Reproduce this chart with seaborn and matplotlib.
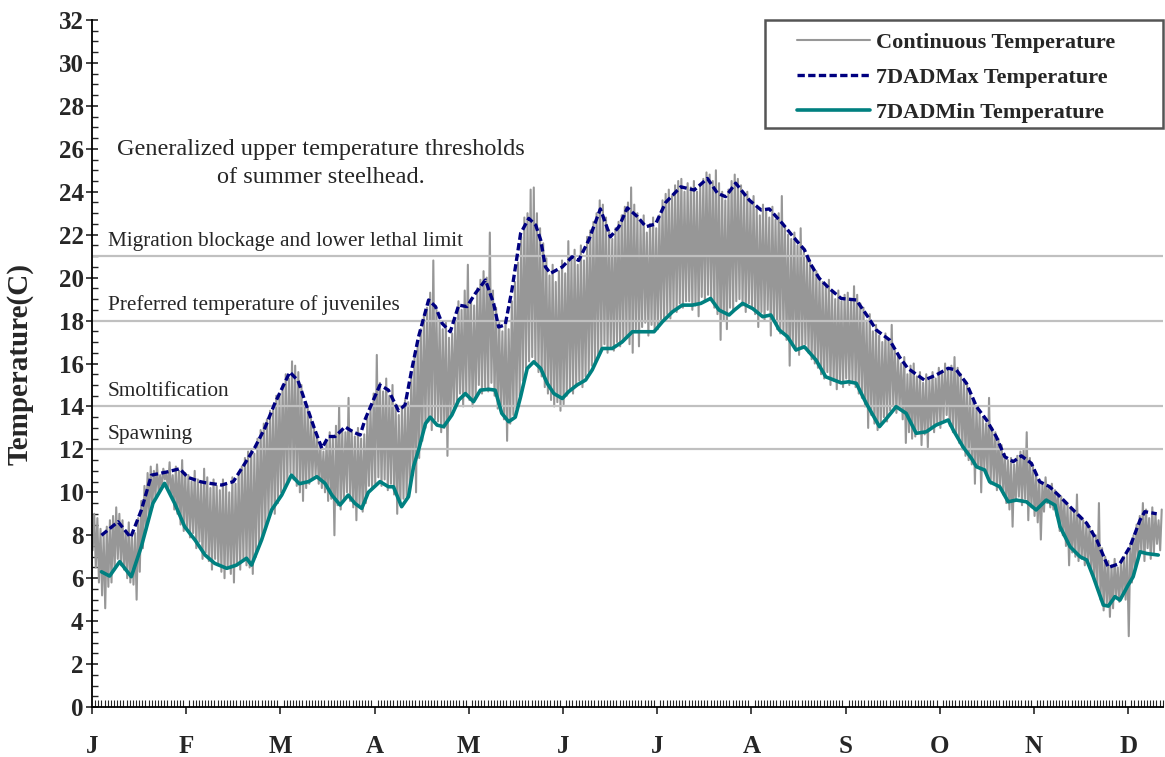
import numpy as np
import pandas as pd
import matplotlib
matplotlib.use('Agg')
import matplotlib.pyplot as plt
import seaborn as sns
from matplotlib.ticker import MultipleLocator, FixedLocator
from matplotlib.patches import Rectangle

sns.set_style('white')
plt.rcParams['font.family'] = ['Liberation Serif', 'DejaVu Serif']

# Continuous record, daily highs and lows (day 0 = Jan 1)
daily_high = [
    9.0, 8.8, 8.3, 8.0, 8.4, 8.7, 8.9, 9.3, 9.0, 8.7,
    8.2, 8.6, 7.9, 8.1, 8.8, 9.6, 10.3, 10.9, 11.2, 11.0,
    11.3, 10.8, 11.1, 10.9, 11.4, 10.8, 11.2, 11.0, 11.5, 10.9,
    10.8, 10.5, 11.0, 10.6, 10.4, 11.1, 10.7, 10.2, 10.6, 10.3,
    10.1, 10.6, 10.3, 10.0, 10.7, 10.4, 10.9, 11.2, 11.6, 11.9,
    12.0, 11.8, 12.5, 12.9, 13.2, 13.4, 13.8, 14.0, 14.5, 14.6,
    15.0, 15.5, 15.3, 16.1, 15.9, 15.6, 15.0, 14.2, 13.9, 13.5,
    13.0, 12.6, 12.3, 11.9, 12.4, 12.8, 12.5, 13.1, 14.0, 12.9,
    12.8, 14.4, 12.9, 12.6, 13.0, 12.5, 12.7, 13.5, 14.0, 14.6,
    16.4, 15.1, 14.7, 15.3, 14.5, 15.0, 14.1, 13.6, 13.9, 14.3,
    14.2, 15.5, 16.3, 17.0, 17.6, 18.2, 18.6, 19.3, 20.8, 18.5,
    18.0, 17.6, 17.9, 17.2, 17.4, 18.1, 18.9, 18.5, 19.4, 20.6,
    19.0, 18.7, 19.5, 19.9, 20.3, 20.0, 22.1, 19.4, 18.6, 17.9,
    17.5, 18.0, 17.6, 18.9, 19.8, 20.7, 21.9, 22.8, 23.0, 24.1,
    24.2, 23.0, 22.3, 21.6, 20.9, 20.1, 20.6, 19.8, 20.3, 20.8,
    20.2, 21.7, 20.9, 21.3, 20.6, 21.5, 20.8, 21.9, 22.2, 22.6,
    23.0, 23.6, 23.4, 22.8, 22.2, 21.8, 22.3, 22.6, 22.9, 23.3,
    23.5, 24.2, 23.4, 23.0, 22.6, 22.9, 22.1, 22.5, 22.8, 22.3,
    22.9, 23.6, 23.9, 24.1, 23.8, 24.3, 24.5, 24.6, 24.0, 24.4,
    24.2, 24.5, 24.0, 24.3, 24.6, 24.9, 24.8, 24.5, 25.0, 24.4,
    24.0, 23.6, 24.1, 24.5, 24.8, 24.6, 24.3, 23.9, 24.0, 23.5,
    23.8, 23.2, 22.9, 23.4, 23.1, 22.8, 23.3, 22.7, 23.0, 23.8,
    22.4, 22.0, 21.8, 22.1, 21.5, 22.3, 21.2, 21.0, 20.8, 20.5,
    20.3, 20.0, 19.8, 19.6, 19.9, 19.3, 19.0, 19.4, 18.9, 19.2,
    19.3, 18.9, 19.6, 19.2, 18.8, 18.6, 18.0, 18.3, 17.5, 17.8,
    17.3, 17.0, 17.4, 17.1, 17.8, 16.6, 16.4, 16.0, 16.3, 15.5,
    15.9, 16.0, 15.4, 15.6, 15.1, 15.5, 15.2, 15.6, 15.3, 15.8,
    15.6, 16.0, 15.7, 15.9, 16.3, 15.8, 15.5, 15.2, 15.0, 14.6,
    14.3, 14.0, 13.7, 13.5, 13.2, 14.4, 13.0, 12.8, 12.5, 12.2,
    11.8, 11.5, 11.6, 11.3, 11.7, 11.9, 12.0, 12.8, 11.6, 11.2,
    10.9, 10.6, 10.4, 10.7, 10.2, 10.4, 10.1, 9.9, 9.8, 9.6,
    9.4, 9.3, 9.1, 9.9, 8.9, 8.7, 8.5, 8.4, 8.2, 8.0,
    9.5, 7.4, 7.0, 6.8, 6.6, 6.9, 6.5, 6.7, 7.0, 7.2,
    7.6, 8.0, 8.5, 8.9, 9.5, 9.2, 8.8, 9.3, 9.0, 8.7, 9.2,
]
daily_low = [
    7.3, 6.5, 5.8, 5.2, 4.6, 5.6, 5.8, 6.4, 6.9, 6.6,
    6.4, 6.0, 5.8, 5.7, 5.0, 6.3, 7.4, 8.2, 8.9, 9.3,
    9.8, 10.0, 10.2, 10.6, 10.1, 9.8, 9.2, 9.0, 8.5, 8.2,
    8.3, 7.9, 8.1, 7.4, 7.7, 6.9, 7.2, 6.8, 6.4, 6.9,
    6.6, 6.3, 6.0, 6.5, 6.2, 5.8, 6.7, 6.4, 6.9, 6.6,
    6.5, 6.2, 7.0, 7.6, 8.0, 8.4, 8.8, 9.2, 9.0, 9.5,
    10.0, 10.2, 10.5, 10.9, 10.6, 10.3, 10.0, 9.6, 10.2, 10.4,
    10.6, 10.8, 10.4, 10.2, 10.0, 9.6, 9.7, 8.0, 9.4, 9.2,
    9.7, 10.0, 9.6, 9.3, 8.7, 9.4, 9.1, 9.5, 10.3, 10.2,
    10.4, 10.7, 10.3, 10.6, 10.1, 10.4, 9.9, 9.0, 9.4, 9.7,
    9.8, 10.2, 10.8, 10.0, 11.6, 12.4, 13.0, 13.3, 12.9, 13.4,
    13.3, 12.8, 13.0, 11.7, 13.6, 13.9, 14.2, 14.6, 14.0, 14.5,
    14.3, 14.0, 14.4, 15.0, 14.6, 14.9, 14.7, 15.1, 14.5, 13.9,
    13.8, 13.4, 12.4, 13.2, 13.6, 13.9, 14.5, 15.2, 15.8, 16.1,
    16.3, 16.0, 15.6, 15.4, 14.9, 14.6, 14.3, 14.0, 14.2, 13.8,
    14.1, 14.5, 14.8, 14.6, 15.0, 15.2, 14.9, 15.4, 15.6, 15.9,
    16.0, 16.4, 16.6, 16.9, 16.5, 16.8, 16.6, 17.0, 16.8, 17.1,
    17.2, 16.9, 16.5, 17.6, 16.8, 17.7, 17.9, 17.3, 17.8, 17.5,
    17.6, 17.9, 18.0, 18.3, 18.1, 18.5, 18.4, 18.8, 18.6, 18.9,
    18.9, 18.5, 18.7, 18.2, 19.1, 18.9, 19.2, 19.0, 18.6, 18.3,
    17.1, 18.0, 17.6, 18.6, 18.5, 18.9, 19.0, 18.7, 18.4, 18.8,
    18.6, 18.3, 17.7, 18.4, 18.0, 18.5, 17.3, 18.1, 17.6, 17.4,
    17.4, 17.1, 15.9, 16.9, 16.6, 16.4, 16.8, 16.9, 16.5, 16.2,
    16.0, 15.8, 15.5, 15.3, 15.6, 15.0, 15.2, 14.8, 15.1, 14.9,
    15.3, 15.0, 15.2, 14.9, 14.6, 14.4, 14.0, 13.0, 13.6, 13.2,
    12.9, 13.1, 13.5, 13.3, 13.8, 14.0, 13.7, 13.9, 13.4, 12.3,
    12.8, 12.5, 12.6, 12.9, 12.2, 12.7, 12.1, 13.0, 12.8, 13.2,
    13.0, 13.4, 13.6, 13.1, 12.8, 12.7, 12.3, 12.0, 11.7, 11.5,
    11.3, 10.4, 11.2, 10.0, 11.1, 10.7, 10.4, 10.5, 10.1, 10.3,
    9.9, 9.5, 9.2, 8.4, 9.6, 9.8, 9.4, 9.7, 8.7, 9.3,
    8.9, 8.6, 7.8, 9.1, 9.5, 9.3, 9.2, 8.9, 8.2, 8.0,
    7.5, 6.6, 7.2, 7.0, 6.8, 6.9, 6.6, 6.7, 6.3, 5.9,
    5.6, 5.0, 4.5, 4.8, 4.2, 4.6, 5.1, 4.9, 5.2, 5.0,
    3.3, 5.8, 6.4, 7.0, 7.2, 6.8, 7.4, 6.9, 7.2, 7.6, 7.3,
]

# 7-day average of daily maximum
max7_days = [3, 8.3, 12.3, 15.7, 18.9, 24.2, 27.9, 30.5, 34.4, 36, 41.3, 45, 48.7, 51.9, 55, 58.2,
             63, 65.6, 68.4, 71, 73.2, 75.3, 77.4, 80.6, 83.3, 85.4, 86.9, 89.6, 91.7, 94.4, 97.6,
             99.7, 101.8, 104, 107.2, 109.4, 111.5, 114.1, 116.8, 119.4, 122.1, 125.3, 127.9, 129.5,
             131.6, 133.7, 136.5, 139.1, 141.3, 142.9, 144.4, 146, 149.8, 152.9, 155, 158.2, 161.9,
             165.1, 167.8, 170.5, 173.7, 176.4, 179.5, 182.7, 187.5, 191.8, 196, 199.2, 201.8, 205,
             209.4, 213.1, 215.7, 220, 224.2, 226.9, 229, 231.6, 234.8, 238.6, 243.4, 247.1, 249.8,
             254, 257.2, 259.8, 265.1, 268.8, 272.7, 275.3, 278.5, 281.7, 284.9, 288, 290.7, 293.4,
             296, 299.2, 301.8, 305, 308.3, 312.5, 316.8, 320, 323.7, 327.4, 330.6, 333.8, 335.3, 339.1]
max7_vals = [8.0, 8.63, 7.9, 9.17, 10.8, 10.96, 11.1, 10.7, 10.5, 10.45, 10.34, 10.5, 11.35, 12.1, 12.98, 14.14,
             15.6, 15.2, 14.0, 12.9, 12.05, 12.6, 12.6, 13.05, 12.8, 12.67, 13.37, 14.3, 15.0, 14.76, 13.8,
             14.07, 15.7, 17.25, 18.96, 18.65, 17.87, 17.48, 18.72, 18.65, 19.27, 19.89, 18.8, 17.7,
             17.8, 19.4, 22.06, 22.76, 22.45, 21.75, 20.5, 20.2, 20.5, 20.97, 20.8, 21.75, 23.2,
             21.9, 22.37, 23.25, 22.84, 22.37, 22.5, 23.5, 24.23, 24.08, 24.62, 23.93, 23.77, 24.4,
             23.6, 23.15, 23.2, 22.5, 21.75, 21.3, 20.6, 19.97, 19.5, 19.03, 18.96, 18.18, 17.56,
             17.1, 16.3, 15.78, 15.23, 15.46, 15.78, 15.7, 15.08, 13.99, 13.37, 12.59, 11.66, 11.43,
             11.7, 11.35, 10.5, 10.26, 9.8, 9.18, 8.56, 7.78, 6.5, 6.69, 7.47, 8.71, 9.1, 9.0]

# 7-day average of daily minimum
min7_days = [3, 5.6, 8.8, 12.5, 15.7, 19.4, 23.1, 26.3, 29.5, 32.8, 36, 39.1, 42.9, 46, 49.2, 50.8, 54,
             57.2, 60.4, 63.5, 66, 69, 71.6, 74.2, 76.4, 79, 81.6, 83.7, 85.9, 88, 91.7, 94.4, 96, 98.6,
             100.8, 102.4, 104, 106.2, 107.7, 109.9, 112, 114.6, 116.8, 118.9, 121.5, 123.7, 126.3,
             128.4, 130.5, 132.7, 134.8, 136.5, 138.6, 140.7, 142.9, 145, 147.1, 149.8, 151.8, 154.5,
             157.2, 159.3, 162.5, 165.7, 168.8, 172.1, 175.3, 179, 181.7, 184.9, 188, 191.2, 193.9,
             197, 199.7, 202.9, 204.6, 207.2, 210.4, 213.6, 216.2, 218.9, 221.5, 224.2, 226.9, 230.6,
             233.7, 238.6, 241, 243.4, 246.6, 250.8, 253.5, 256.1, 259.3, 262.5, 265.7, 268.8, 272.7,
             274.3, 277.4, 280.1, 281.7, 284.3, 285.9, 289.1, 291.8, 294.4, 297.6, 300.7, 303.9,
             306.7, 308.3, 311.5, 314.7, 316.8, 318.9, 322.1, 323.7, 325.8, 327.4, 330, 331.6, 333.8,
             335.9, 339.6]
min7_vals = [6.3, 6.1, 6.77, 6.07, 7.47, 9.49, 10.42, 9.49, 8.4, 7.78, 7.08, 6.69, 6.46, 6.61, 6.93, 6.61, 7.78,
             9.18, 9.87, 10.8, 10.4, 10.5, 10.73, 10.42, 9.87, 9.41, 9.87, 9.49, 9.25, 10.0, 10.5, 10.26, 10.26, 9.33,
             9.8, 11.2, 11.97, 13.2, 13.5, 13.13, 13.06, 13.6, 14.3, 14.6, 14.22, 14.76, 14.8,
             14.76, 13.68, 13.29, 13.5, 14.45, 15.77, 16.08, 15.77, 15.07, 14.6, 14.37, 14.69, 15.0,
             15.23, 15.7, 16.7, 16.7, 17.0, 17.48, 17.48, 17.48, 17.95, 18.41, 18.72, 18.72, 18.8,
             19.03, 18.49, 18.26, 18.49, 18.8, 18.56, 18.18, 18.26, 17.56, 17.25, 16.63, 16.78, 16.16,
             15.38, 15.1, 15.15, 15.08, 14.14, 13.06, 13.52, 13.99, 13.68, 12.75, 12.82, 13.13, 13.37,
             12.9, 12.12, 11.58, 11.19, 11.04, 10.49, 10.26, 9.56, 9.64, 9.56, 9.18, 9.64,
             9.4, 8.4, 7.47, 7.0, 6.85, 6.07, 4.75, 4.7, 5.14, 4.98, 5.68, 6.07, 7.23,
             7.15, 7.08]

month_labels = ['J', 'F', 'M', 'A', 'M', 'J', 'J', 'A', 'S', 'O', 'N', 'D']
thresholds = [21, 18, 14, 12]
threshold_labels = ['Migration blockage and lower lethal limit',
                    'Preferred temperature of juveniles',
                    'Smoltification', 'Spawning']

# interleave daily lows (morning) and highs (afternoon) into one trace
days = np.arange(len(daily_high))
cont = pd.DataFrame({'day': np.concatenate([days + 0.2, days + 0.7]),
                     'temp': daily_low + daily_high}).sort_values('day')
max7 = pd.DataFrame({'day': max7_days, 'temp': max7_vals})
min7 = pd.DataFrame({'day': min7_days, 'temp': min7_vals})

fig = plt.figure(figsize=(11.65, 7.57), dpi=100)
ax = fig.add_axes([0.079, 0.066, 0.919, 0.9076])

for t in thresholds:
    ax.axhline(t, color='#c0c0c0', lw=1.6, zorder=1.5)

sns.lineplot(data=cont, x='day', y='temp', ax=ax, color='#979797', lw=1.5,
             estimator=None, sort=False, label='Continuous Temperature', zorder=1)
sns.lineplot(data=max7, x='day', y='temp', ax=ax, color='#000080', lw=2.4,
             estimator=None, sort=False, label='7DADMax Temperature', zorder=3)
ax.lines[-1].set_dashes([2.2, 1.0])
sns.lineplot(data=min7, x='day', y='temp', ax=ax, color='#008080', lw=2.6,
             estimator=None, sort=False, label='7DADMin Temperature', zorder=3)

ax.set_xlim(0, 341)
ax.set_ylim(0, 32)
ax.yaxis.set_major_locator(MultipleLocator(2))
ax.yaxis.set_minor_locator(MultipleLocator(0.5))
ax.xaxis.set_major_locator(FixedLocator(np.arange(0, 331, 30)))
ax.xaxis.set_minor_locator(MultipleLocator(1))
ax.set_xticklabels(month_labels)
ax.tick_params(axis='y', which='major', direction='inout', length=8, width=1.2,
               labelsize=18, pad=2, left=True)
ax.tick_params(axis='y', which='minor', direction='in', length=4, width=1, left=True)
ax.tick_params(axis='x', which='major', direction='out', length=5, width=1.2,
               labelsize=18, pad=15, bottom=True)
ax.tick_params(axis='x', which='minor', direction='in', length=5, width=0.8, bottom=True)
for lab in ax.get_xticklabels() + ax.get_yticklabels():
    lab.set_fontweight('bold')

for side in ['top', 'right']:
    ax.spines[side].set_visible(False)
for side in ['left', 'bottom']:
    ax.spines[side].set_color('black')
    ax.spines[side].set_linewidth(1.3)

ax.set_xlabel('')
ax.set_ylabel('Temperature(C)', fontsize=21, fontweight='bold')
ax.yaxis.set_label_coords(-0.055, 0.5)

for t, lab in zip(thresholds, threshold_labels):
    ax.text(5, t + 0.25, lab, fontsize=15.3, va='bottom', ha='left')

ax.text(73, 25.3, 'Generalized upper temperature thresholds\nof summer steelhead.',
        fontsize=17.5, ha='center', va='center', multialignment='center', linespacing=1.45)

# legend box (Excel style: wider than its content on the right)
W, H = 1165, 757
box = Rectangle((765 / W, 1 - 128 / H), 398 / W, 108 / H, transform=fig.transFigure,
                facecolor='white', edgecolor='#555555', lw=1.8, zorder=4, clip_on=False)
ax.add_patch(box)
leg = ax.legend(loc='upper left', bbox_to_anchor=(797 / W, 1 - 32 / H),
                bbox_transform=fig.transFigure, borderaxespad=0, frameon=False,
                handlelength=3.3, handletextpad=0.25, labelspacing=0.66, borderpad=0,
                prop={'weight': 'bold', 'size': 16})
leg.set_zorder(5)

fig.savefig('out.png', dpi=100)
